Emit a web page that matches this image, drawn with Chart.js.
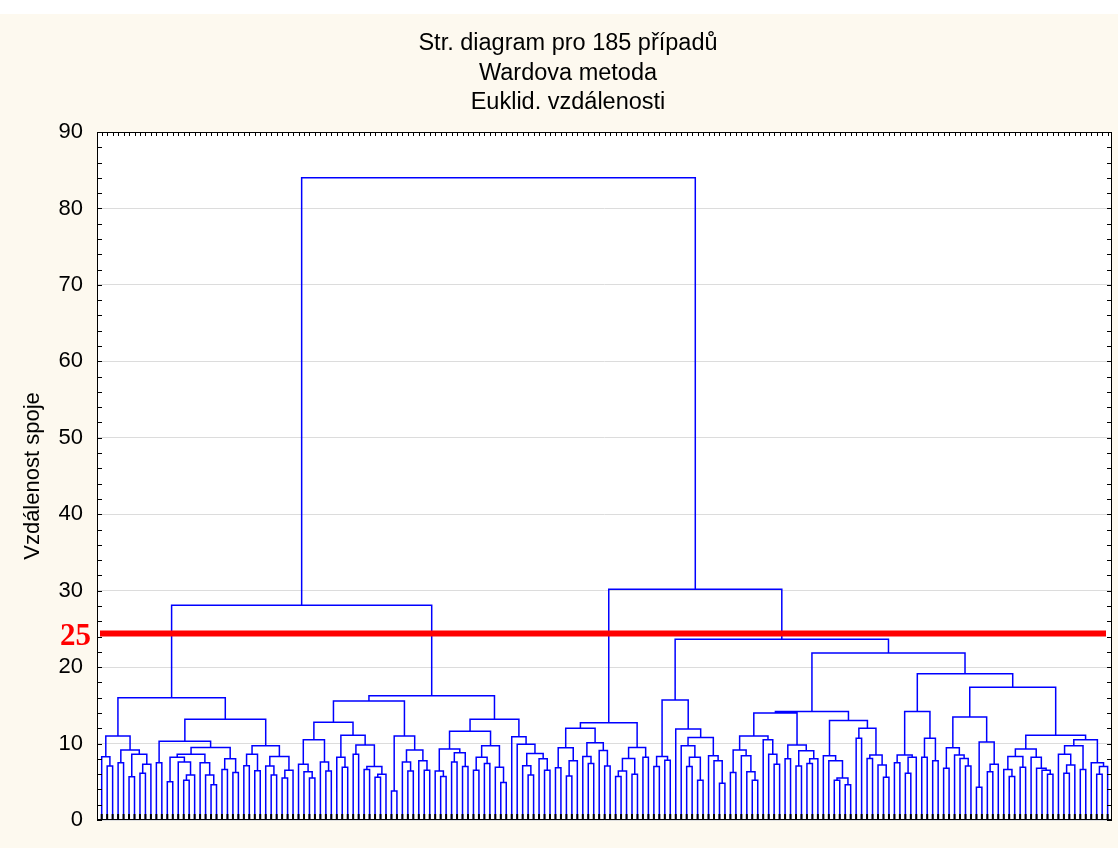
<!DOCTYPE html>
<html lang="cs">
<head>
<meta charset="UTF-8">
<title>Stromový diagram - Wardova metoda</title>
<script src="https://cdn.jsdelivr.net/npm/chart.js"></script>
<style>
  html, body { margin: 0; padding: 0; background: #fdf9ef; }
  #wrap { width: 1118px; height: 848px; }
</style>
</head>
<body>
<div id="wrap"><canvas id="tree" width="1118" height="848"></canvas></div>
<script>
// 0 = jeden případ (list), [levá větev, pravá větev, vzdálenost spoje]
const clusterA = [[0,[0,0,7.06],8.28],[[0,0,7.5],[[0,0,5.67],[[0,0,6.1],0,7.3],8.6],9.15],11.0];
const clusterBLeft = [[0,0,7.5],[[[[0,0,5.0],[0,[[0,0,5.2],0,5.9],7.6],8.2],[0,[0,[0,0,4.6],5.9],7.5],8.6],[[0,0,6.6],[0,0,6.2],8.0],9.5],10.3];
const clusterBRight = [[[0,0,7.1],[0,0,6.45],8.6],[[0,[0,0,5.9],7.06],[[0,0,5.5],0,6.5],8.3],9.7];
const clusterC = [[0,[0,[0,0,5.5],6.3],7.3],[0,[0,0,6.4],7.6],10.5];
const clusterD = [[0,[0,0,6.9],8.2],[[0,0,8.6],[[0,0,6.6],[[0,0,5.6],0,6.0],7.0],9.8],11.1];
const clusterE = [[0,0,3.8],[[0,[0,0,6.4],7.6],[0,[0,0,6.5],7.76],9.15],11.0];
const clusterF = [[[0,[0,0,5.7],6.4],[[0,0,7.6],[0,0,7.0],8.8],9.3],[[[0,0,6.5],[0,0,7.4],8.2],[0,[0,0,4.9],6.9],9.7],11.6];
const clusterG = [0,[0,[[0,[0,0,5.9],7.1],[0,[0,0,6.5],8.0],8.7],9.9],10.9];
const clusterH = [[[0,0,6.85],[[0,0,5.75],0,7.76],9.46],[[0,[0,0,7.4],8.3],[0,[0,0,7.06],9.1],10.1],12.0];
const clusterI = [[[[0,0,5.7],0,6.4],[0,0,5.97],8.06],[0,0,8.2],9.5];
const clusterJ = [[[0,0,7.0],[0,0,7.8],8.3],[0,[[0,[[0,0,7.0],[0,0,5.2],8.2],9.7],[0,[0,[0,0,4.8],7.76],8.4],10.8],11.9],15.7];
const clusterK = [[[[0,0,6.2],[0,[0,[0,0,5.2],6.3],8.4],9.15],[0,[0,[0,0,7.3],8.6],10.5],11.0],[[0,0,8.0],[[0,0,7.06],[[0,0,7.4],0,8.0],9.07],9.8],14.0];
const clusterL = [[0,[0,[[0,0,5.2],[0,0,4.6],5.5],7.76],8.4],[[0,0,10.7],[[0,0,8.06],[0,[0,0,5.6],7.2],8.5],12.0],13.0];
const clusterM = [[[0,0,7.5],[[0,0,6.1],0,8.2],8.5],[[0,0,8.2],[0,0,7.76],10.7],14.2];
const clusterN = [[[0,0,6.76],[0,[0,[0,0,7.06],8.06],8.5],9.46],[[0,0,4.3],[[0,0,6.3],0,7.3],10.2],13.47];
const clusterO = [[[[0,[0,0,5.7],6.6],[0,0,6.9],8.3],[0,[0,[0,[0,0,6.0],6.5],6.76],8.2],9.3],[[[0,[[0,0,6.1],0,7.2],8.6],[0,0,6.6],9.7],[0,[[0,0,6.0],0,7.0],7.5],10.5],11.1];

// horní spoje
const leftMain = [[clusterA, [clusterBLeft, clusterBRight, 13.17], 16.0],
                  [[[clusterC, clusterD, 12.8], clusterE, 15.57], [clusterF, clusterG, 13.17], 16.26], 28.08];
const rightMain = [[clusterH, clusterI, 12.73],
                   [clusterJ, [[clusterK, clusterL, 14.2], [clusterM, [clusterN, clusterO, 17.35], 19.14], 21.84], 23.63], 30.2];
const root = [leftMain, rightMain, 84.0];

const titleLines = ['Str. diagram pro 185 případů', 'Wardova metoda', 'Euklid. vzdálenosti'];
const yTitle = 'Vzdálenost spoje';
const cutLevel = 24.4;
const cutLabel = '25';

// rozložení stromu
let leafCount = 0;
const segments = [];
function place(node) {
    if (node === 0) return { x: leafCount++, h: 0 };
    const a = place(node[0]);
    const b = place(node[1]);
    const h = node[2];
    segments.push({x: a.x, y: a.h}, {x: a.x, y: h}, {x: b.x, y: h}, {x: b.x, y: b.h}, {x: b.x, y: null});
    return { x: (a.x + b.x) / 2, h: h };
}
place(root);

const FONT = 'Arial, "Liberation Sans", sans-serif';

const decor = {
    id: 'decor',
    beforeDraw(chart) {
        const {ctx, chartArea: a} = chart;
        ctx.save();
        ctx.fillStyle = '#fdf9ef';
        ctx.fillRect(0, 0, chart.width, chart.height);
        ctx.fillStyle = '#ffffff';
        ctx.fillRect(0, 0, chart.width, 14);
        ctx.fillRect(a.left, a.top, a.right - a.left, a.bottom - a.top);
        ctx.restore();
    },
    afterDatasetsDraw(chart) {
        const {ctx, chartArea: a, scales: {y}} = chart;
        const py = y.getPixelForValue(cutLevel);
        ctx.save();
        ctx.strokeStyle = '#ff0000';
        ctx.lineWidth = 6;
        ctx.beginPath();
        ctx.moveTo(a.left + 3, py);
        ctx.lineTo(a.right - 6, py);
        ctx.stroke();
        ctx.fillStyle = '#ff0000';
        ctx.font = 'bold 31px "Times New Roman", "Liberation Serif", serif';
        ctx.textAlign = 'right';
        ctx.textBaseline = 'middle';
        ctx.fillText(cutLabel, a.left - 6, py + 4);
        ctx.restore();
    },
    afterDraw(chart) {
        const {ctx, chartArea: a, scales: {x, y}} = chart;
        ctx.save();
        // nadpis
        ctx.fillStyle = '#000';
        ctx.font = '23.5px ' + FONT;
        ctx.textAlign = 'center';
        ctx.textBaseline = 'middle';
        titleLines.forEach((t, i) => ctx.fillText(t, 568, 44 + i * 29.5));
        // rámeček a značky
        ctx.strokeStyle = '#000';
        ctx.lineWidth = 1;
        ctx.strokeRect(a.left + 0.5, a.top + 0.5, a.right - a.left - 1, a.bottom - a.top - 1);
        ctx.beginPath();
        for (let v = 0; v <= 90; v += 2) {
            const py = Math.round(y.getPixelForValue(v)) + 0.5;
            ctx.moveTo(a.left, py); ctx.lineTo(a.left + 5, py);
            ctx.moveTo(a.right - 5, py); ctx.lineTo(a.right, py);
        }
        for (let i = 0; i < leafCount; i++) {
            const px = Math.round(x.getPixelForValue(i)) + 0.5;
            ctx.moveTo(px, a.top); ctx.lineTo(px, a.top + 4);
        }
        ctx.stroke();
        ctx.lineWidth = 2;
        ctx.beginPath();
        for (let i = 0; i < leafCount; i++) {
            const px = x.getPixelForValue(i);
            ctx.moveTo(px, a.bottom); ctx.lineTo(px, a.bottom - 6);
        }
        ctx.stroke();
        ctx.restore();
    }
};

new Chart(document.getElementById('tree'), {
    type: 'scatter',
    data: {
        datasets: [{
            data: segments,
            showLine: true,
            spanGaps: false,
            borderColor: '#0000ff',
            borderWidth: 1.5,
            pointRadius: 0,
            pointHoverRadius: 0
        }]
    },
    options: {
        responsive: false,
        animation: false,
        events: [],
        layout: { padding: { left: 0, right: 6, top: 132, bottom: 28 } },
        plugins: {
            legend: { display: false },
            tooltip: { enabled: false },
            title: { display: false }
        },
        scales: {
            x: {
                type: 'linear',
                min: -0.86,
                max: 184.8,
                display: false
            },
            y: {
                min: 0,
                max: 90,
                afterFit(scale) { scale.width = 97; },
                ticks: {
                    stepSize: 10,
                    color: '#000',
                    padding: 14,
                    font: { family: FONT, size: 22 }
                },
                grid: { color: '#dcdcdc', drawTicks: false },
                border: { display: false },
                title: {
                    display: true,
                    text: yTitle,
                    color: '#000',
                    font: { family: FONT, size: 22 },
                    padding: { top: 20, bottom: 0 }
                }
            }
        }
    },
    plugins: [decor]
});
</script>
</body>
</html>
